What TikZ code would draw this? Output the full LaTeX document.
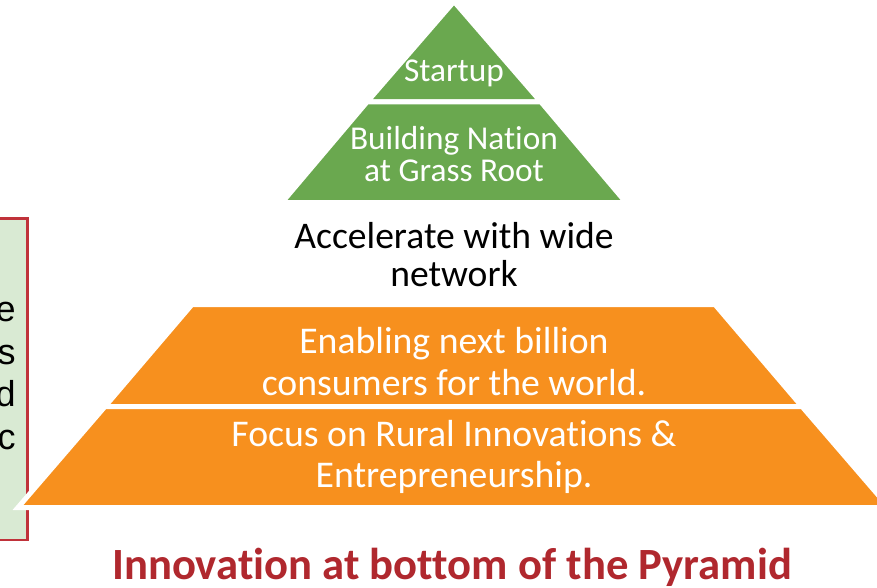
\documentclass[tikz,border=0pt]{standalone}
\usepackage{fontspec}
\setmainfont{Carlito}[Ligatures=NoCommon]
\newfontfamily\arialf{Liberation Sans}
\definecolor{pgreen}{HTML}{6AA84F}
\definecolor{porange}{HTML}{F7901E}
\definecolor{ptitle}{HTML}{B0282E}
\definecolor{boxfill}{HTML}{D9EAD3}
\definecolor{boxline}{HTML}{C0323A}
\begin{document}
\begin{tikzpicture}[x=0.75pt,y=-0.75pt,
  tier/.style={draw=white,line width=3.75pt,line join=miter},
  tiertext/.style={text=white,align=center,inner sep=0pt},
  blacktext/.style={text=black,align=center,inner sep=0pt},
]
\useasboundingbox (0,0) rectangle (877,588);
% left box (cut off)
\draw[fill=boxfill,draw=boxline,line width=2pt] (-10,218.5) rectangle (27.5,540);
\node[anchor=east,align=right,inner sep=0pt,font=\arialf\fontsize{27}{32}\selectfont] (boxtext) at (16,376) {e\\s\\d\\c};
% green pyramid
\fill[pgreen,tier] (454,1.5) -- (541,102) -- (367,102) -- cycle;
\fill[pgreen,tier] (367,102) -- (541,102) -- (626,202.5) -- (282,202.5) -- cycle;
% orange pyramid
\fill[porange,tier] (192,304.5) -- (715,304.5) -- (802,406.5) -- (105,406.5) -- cycle;
\fill[porange,tier] (105,406.5) -- (802,406.5) -- (889,507.5) -- (18,507.5) -- cycle;
% texts
\node[tiertext,font=\fontsize{25}{23.5}\selectfont] (startup) at (454,73) {Startup};
\node[tiertext,font=\fontsize{25}{23.5}\selectfont] (nation) at (454,154) {Building Nation\\at Grass Root};
\node[blacktext,font=\fontsize{28.2}{28.5}\selectfont] (accel) at (454,255) {Accelerate with wide\\network};
\node[tiertext,font=\fontsize{28.3}{31.5}\selectfont] (enable) at (454,362) {Enabling next billion\\consumers for the world.};
\node[tiertext,font=\fontsize{28.3}{31}\selectfont] (focus) at (454,457) {Focus on Rural Innovations \&\\Entrepreneurship.};
\node[text=ptitle,inner sep=0pt,font=\bfseries\fontsize{33.5}{35}\selectfont] (title) at (452,567) {Innovation at bottom of the Pyramid};
\end{tikzpicture}
\end{document}
